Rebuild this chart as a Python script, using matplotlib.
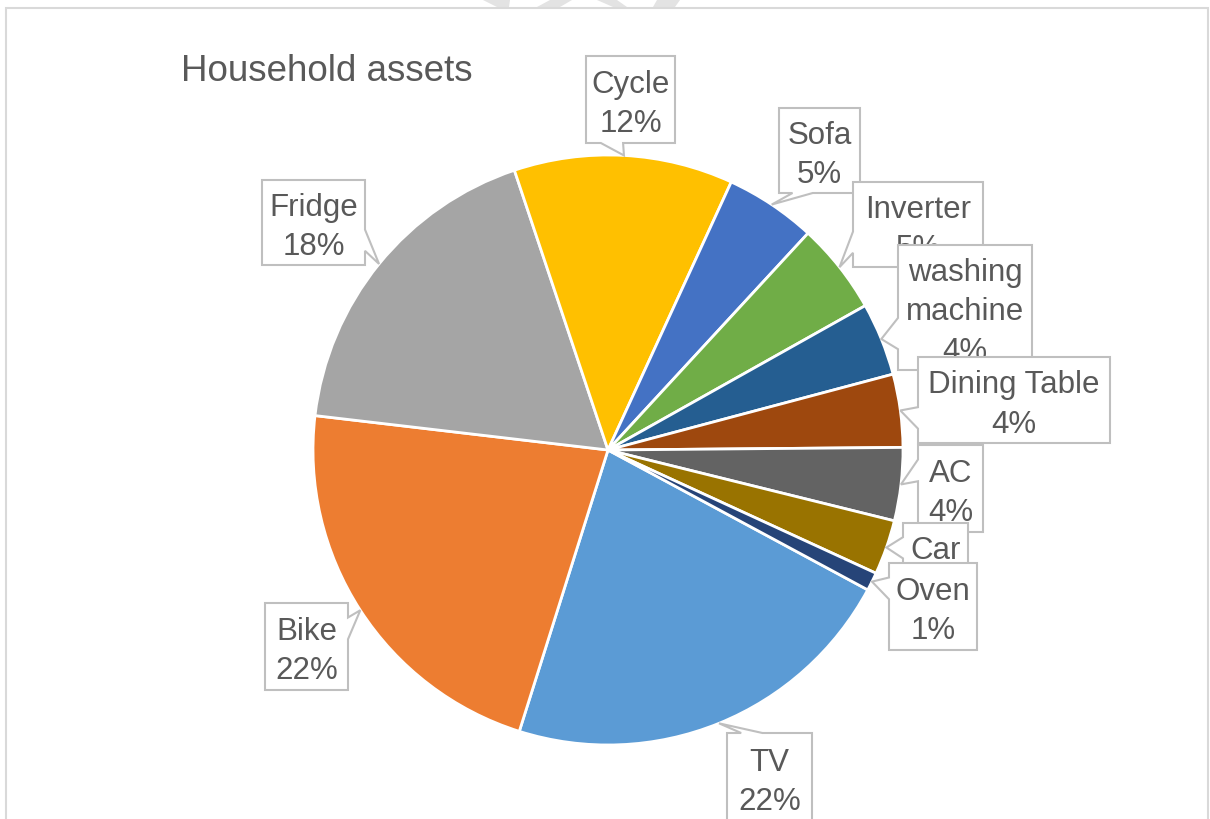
import numpy as np
import matplotlib.pyplot as plt
from matplotlib.patches import Polygon

plt.rcParams['font.family'] = ['Liberation Sans', 'DejaVu Sans']

W, H = 1210, 819
TEXT = "#595959"
EDGE = "#BFBFBF"

# data (Excel order: first slice starts ~118 deg clockwise from 12 o'clock)
categories = ["TV", "Bike", "Fridge", "Cycle", "Sofa", "Inverter",
              "washing\nmachine", "Dining Table", "AC", "Car", "Oven"]
values = [22, 22, 18, 12, 5, 5, 4, 4, 4, 3, 1]
colors = ["#5B9BD5", "#ED7D31", "#A5A5A5", "#FFC000", "#4472C4", "#70AD47",
          "#255E91", "#9E480E", "#636363", "#997300", "#264478"]

# label boxes, pixel coords (left, top, right, bottom)
BOXES = [
    (727, 733, 812, 822),   # TV
    (265, 603, 348, 690),   # Bike
    (262, 180, 365, 265),   # Fridge
    (586, 56, 675, 143),    # Cycle
    (779, 108, 860, 193),   # Sofa
    (853, 182, 983, 267),   # Inverter
    (898, 245, 1032, 370),  # washing machine
    (918, 357, 1110, 443),  # Dining Table
    (918, 445, 983, 532),   # AC
    (903, 523, 968, 608),   # Car
    (889, 563, 977, 650),   # Oven
]

CX, CY, R = 608, 450, 295   # pie centre / radius in pixels (y down)


def callout(box, tip):
    # rectangle with a wedge pointing at tip (like Excel's wedgeRectCallout)
    x0, y0, x1, y1 = box
    w, h = x1 - x0, y1 - y0
    dx, dy = tip[0] - (x0 + x1) / 2, tip[1] - (y0 + y1) / 2
    tx, ty = tip
    if abs(dx) * h > abs(dy) * w:
        fa, fb = (7 / 12, 10 / 12) if dy > 0 else (2 / 12, 5 / 12)
        ya, yb = y0 + fa * h, y0 + fb * h
        if dx > 0:
            pts = [(x0, y0), (x1, y0), (x1, ya), (tx, ty), (x1, yb), (x1, y1), (x0, y1)]
        else:
            pts = [(x0, y0), (x1, y0), (x1, y1), (x0, y1), (x0, yb), (tx, ty), (x0, ya)]
    else:
        fa, fb = (7 / 12, 10 / 12) if dx > 0 else (2 / 12, 5 / 12)
        xa, xb = x0 + fa * w, x0 + fb * w
        if dy > 0:
            pts = [(x0, y0), (x1, y0), (x1, y1), (xb, y1), (tx, ty), (xa, y1), (x0, y1)]
        else:
            pts = [(x0, y0), (xa, y0), (tx, ty), (xb, y0), (x1, y0), (x1, y1), (x0, y1)]
    return [(x, H - y) for x, y in pts]


fig = plt.figure(figsize=(W / 100, H / 100), dpi=100)
ax = fig.add_axes([0, 0, 1, 1])

wedges, _ = ax.pie(values, colors=colors, startangle=-28.3, counterclock=False,
                   center=(CX, H - CY), radius=R,
                   wedgeprops=dict(edgecolor="white", linewidth=2))

total = sum(values)
for i, (wd, name, v, box) in enumerate(zip(wedges, categories, values, BOXES)):
    mid = np.deg2rad((wd.theta1 + wd.theta2) / 2)
    tip = (CX + R * np.cos(mid), CY - R * np.sin(mid))
    z = 10 + 2 * i
    ax.add_patch(Polygon(callout(box, tip), closed=True, facecolor="white",
                         edgecolor=EDGE, linewidth=1.5, zorder=z))
    ax.text((box[0] + box[2]) / 2, H - (box[1] + box[3]) / 2 - 5,
            f"{name}\n{round(v / total * 100)}%", ha="center", va="center",
            fontsize=22.5, color=TEXT, linespacing=1.4, zorder=z + 1)

ax.text(181, H - 81, "Household assets", fontsize=26.5, color=TEXT,
        ha="left", va="baseline")

# chart area border (bottom is cropped)
ax.plot([6, 6, 1208, 1208], [0, H - 8, H - 8, 0], color="#D9D9D9",
        linewidth=1.5, solid_joinstyle="miter")

# faint watermark pieces peeking in at the top edge
marks = [
    [(483, 0), (510, 0), (509, 7), (497, 7)],
    [(550, 0), (572, 0), (560, 7), (537, 7)],
    [(597, 0), (617, 0), (627, 7), (613, 7)],
    [(657, 0), (680, 0), (675, 7), (653, 7)],
]
for m in marks:
    ax.add_patch(Polygon([(x, H - y) for x, y in m], closed=True,
                         facecolor="#E3E3E3", edgecolor="none", zorder=1))

ax.set_xlim(0, W)
ax.set_ylim(0, H)
ax.set_aspect("auto")
ax.axis("off")

fig.savefig("out.png", dpi=100)
